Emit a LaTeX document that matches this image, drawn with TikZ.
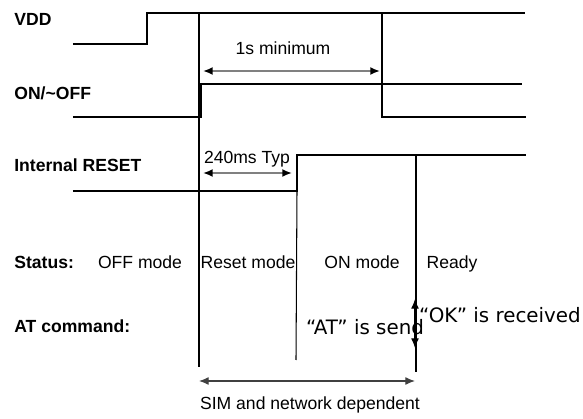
\documentclass[tikz,border=0pt]{standalone}
\usepackage{fontspec}
\setmainfont{Liberation Sans}
\newfontfamily\widefont{DejaVu Sans}
\usetikzlibrary{arrows.meta}

\begin{document}
\begin{tikzpicture}[x=0.02cm,y=-0.02cm,>={Latex[length=5.5pt,width=4.5pt]},
  sig/.style={line width=1.7pt},
  guide/.style={line width=0.6pt},
  dim/.style={gray,line width=1pt,{Latex[color=black,length=5.5pt,width=4.5pt]}-{Latex[color=black,length=5.5pt,width=4.5pt]}},
  lbl/.style={anchor=west,inner sep=0pt,text height=7.2pt,text depth=0pt,font=\fontsize{10}{12}\selectfont\bfseries},
  txt/.style={inner sep=0pt,text height=7.2pt,text depth=0pt,font=\fontsize{10}{12}\selectfont},
  wtxt/.style={inner sep=0pt,text height=8.2pt,text depth=0pt,font=\widefont\fontsize{11.3}{13}\selectfont}]
  \useasboundingbox (0,0) rectangle (583,419);
  % signal names
  \node[lbl] (vdd) at (14,19) {VDD};
  \node[lbl] (onoff) at (14,93) {ON/\textasciitilde OFF};
  \node[lbl] (rst) at (14,165) {Internal RESET};
  \node[lbl] (status) at (14,262) {Status:};
  \node[lbl] (atcmd) at (14,326) {AT command:};
  % VDD
  \coordinate (v0) at (73,44); \coordinate (v1) at (147,44);
  \coordinate (v2) at (147,13); \coordinate (v3) at (525,13);
  \draw[sig] (v0) -- (v1) -- (v2) -- (v3);
  % ON/~OFF
  \coordinate (o0) at (73,117); \coordinate (o1) at (201,117);
  \coordinate (o2) at (201,84); \coordinate (o3) at (382,84);
  \coordinate (o4) at (382,117); \coordinate (o5) at (526,117);
  \coordinate (o6) at (522,84);
  \draw[sig] (o0) -- (o1) -- (o2) -- (o3) -- (o4) -- (o5);
  \draw[guide] (o3) -- (o6);
  % Internal RESET
  \coordinate (r0) at (73,191); \coordinate (r1) at (297,191);
  \coordinate (r2) at (297,155); \coordinate (r3) at (526,155);
  \draw[sig] (r0) -- (r1) -- (r2) -- (r3);
  % guide lines
  \coordinate (g1t) at (199,13); \coordinate (g1b) at (199,367);
  \coordinate (g2t) at (382,13);
  \coordinate (g3b) at (296,360);
  \coordinate (g4t) at (416,155); \coordinate (g4b) at (416,372);
  \draw[guide] (g1t) -- (g1b);
  \draw[guide] (g2t) -- (o3);
  \draw[guide] (r1) -- (g3b);
  \draw[guide] (g4t) -- (g4b);
  % timings
  \coordinate (a1l) at (203,71); \coordinate (a1r) at (380,71);
  \draw[dim] (a1l) -- (a1r);
  \node[txt] (t1s) at (283,48) {1s minimum};
  \coordinate (a2l) at (203,173); \coordinate (a2r) at (292,173);
  \draw[dim] (a2l) -- (a2r);
  \node[txt] (t240) at (247,157) {240ms Typ};
  % status
  \node[txt] (off) at (140,262) {OFF mode};
  \node[txt] (reset) at (248,262) {Reset mode};
  \node[txt] (on) at (362,262) {ON mode};
  \node[txt] (ready) at (452,262) {Ready};
  % AT command
  \node[wtxt] (atsend) at (365,327) {“AT” is send};
  \node[wtxt] (okrecv) at (500,315) {“OK” is received};
  \coordinate (k1) at (415,299); \coordinate (k2) at (415,348);
  \draw[guide,<->] (k1) -- (k2);
  \coordinate (s1) at (199,381); \coordinate (s2) at (415,381);
  \draw[guide,darkgray,<->] (s1) -- (s2);
  \node[txt] (sim) at (310,403) {SIM and network dependent};
\end{tikzpicture}
\end{document}
